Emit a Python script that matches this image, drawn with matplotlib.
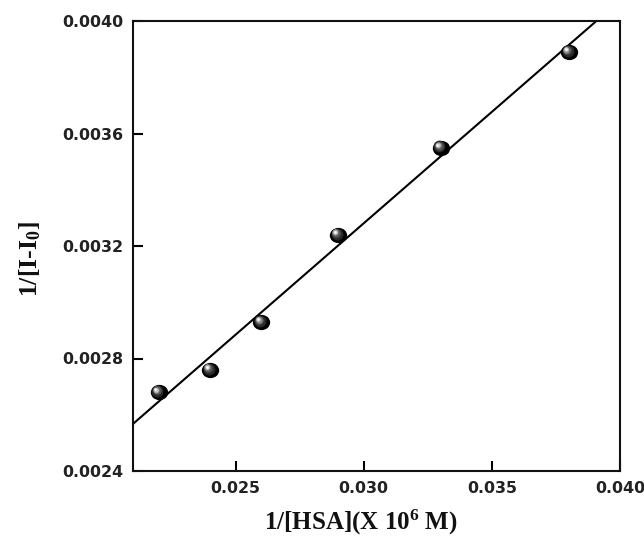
import numpy as np
import matplotlib
matplotlib.use("Agg")
import matplotlib.pyplot as plt
from matplotlib.path import Path
from matplotlib.transforms import offset_copy, Affine2D

# ---- data ----
x_vals = [0.022, 0.024, 0.026, 0.029, 0.033, 0.038]
y_vals = [0.00268, 0.00276, 0.00293, 0.00324, 0.00355, 0.00389]
x_ticks = [0.025, 0.030, 0.035, 0.040]
y_ticks = [0.0024, 0.0028, 0.0032, 0.0036, 0.0040]
x_label = r'1/[HSA](X 10$^{6}$ M)'
y_label = r'1/[I-I$_{0}$]'

plt.rcParams['mathtext.fontset'] = 'custom'
plt.rcParams['mathtext.rm'] = 'Liberation Serif:bold'
plt.rcParams['mathtext.it'] = 'Liberation Serif:bold'
plt.rcParams['mathtext.bf'] = 'Liberation Serif:bold'

fig = plt.figure(figsize=(6.44, 5.36), dpi=100)
ax = fig.add_axes([133/644, (536-471)/536, 487/644, 450/536])

ax.set_xlim(0.021, 0.040)
ax.set_ylim(0.0024, 0.0040)

# fit line
xs = np.array(x_vals)
ys = np.array(y_vals)
k, b = np.polyfit(xs, ys, 1)
lx = np.array([0.021, 0.040])
ax.plot(lx, k*lx + b, color='black', lw=1.5, zorder=2)

# sphere-like markers
ell = Path.unit_circle().transformed(Affine2D().scale(1.0, 0.88))
ax.plot(x_vals, y_vals, ls='none', marker=ell, markersize=12.5,
        mfc='black', mec='black', mew=0, zorder=3)
layers = [
    (-1.2, 1.2, 8.5, '#2a2a2a'),
    (-2.0, 2.0, 6.2, '#555555'),
    (-2.6, 2.4, 4.6, '#8a8a8a'),
    (-3.0, 2.7, 3.2, '#c8c8c8'),
    (-3.2, 2.9, 1.9, '#f8f8f8'),
]
for dx, dy, ms, c in layers:
    tr = offset_copy(ax.transData, fig=fig, x=dx, y=dy, units='dots')
    ax.plot(x_vals, y_vals, ls='none', marker='o', markersize=ms,
            mfc=c, mec='none', transform=tr, zorder=4)

ax.set_xticks(x_ticks)
ax.set_yticks(y_ticks)
ax.set_xticklabels([f'{v:.3f}' for v in x_ticks])
ax.set_yticklabels([f'{v:.4f}' for v in y_ticks])
ax.tick_params(direction='in', length=7, width=1.5, pad=7,
               labelsize=11.4, top=False, right=False)
for lab in ax.get_xticklabels() + ax.get_yticklabels():
    lab.set_fontfamily('DejaVu Sans')
    lab.set_fontweight('bold')
    lab.set_color('#222222')

for s in ax.spines.values():
    s.set_linewidth(1.5)
    s.set_color('#111111')

ax.set_xlabel(x_label, fontfamily='Liberation Serif', fontweight='bold',
              fontsize=18, va='baseline', color='#111111')
ax.xaxis.set_label_coords((361-133)/487, (471-530)/450)
ax.set_ylabel(y_label, fontfamily='Liberation Serif', fontweight='bold',
              fontsize=18.5, va='center', ha='center', rotation_mode='default',
              color='#111111')
ax.yaxis.set_label_coords((30-133)/487, (471-259)/450)

fig.savefig('out.png', dpi=100)
